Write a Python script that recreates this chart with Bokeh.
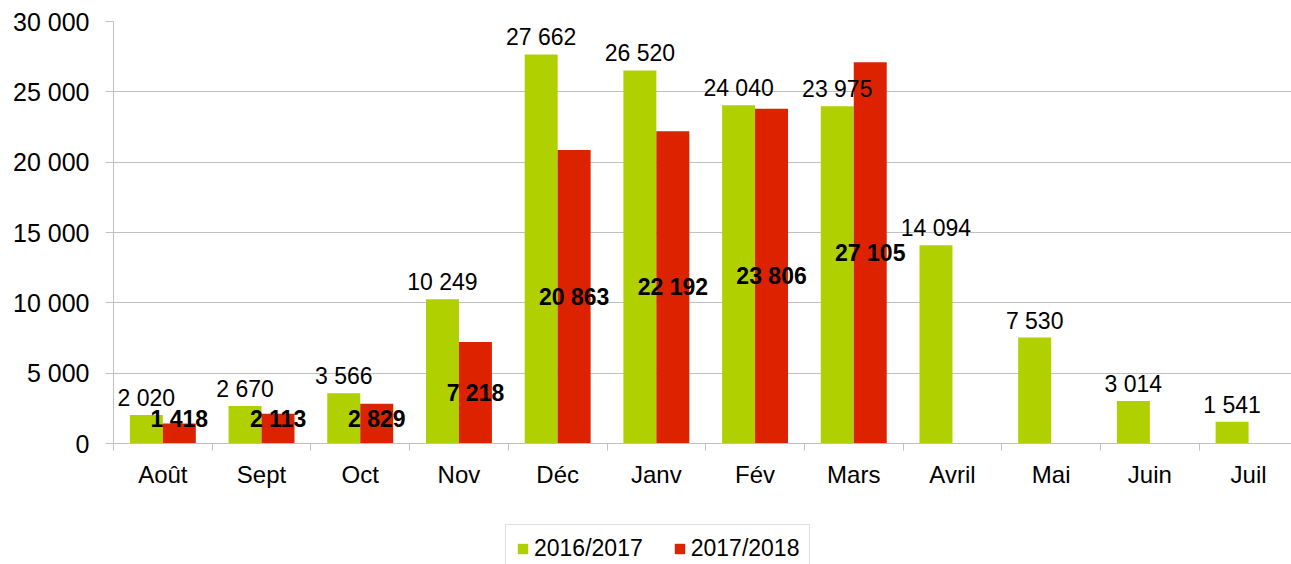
from bokeh.plotting import figure
from bokeh.layouts import column
from bokeh.models import Range1d, FixedTicker, Legend, LegendItem, ColumnDataSource
from bokeh.embed import file_html
from bokeh.resources import INLINE
from bokeh.core.properties import value

months = ["Août", "Sept", "Oct", "Nov", "Déc", "Janv", "Fév", "Mars", "Avril", "Mai", "Juin", "Juil"]
s2016 = [2020, 2670, 3566, 10249, 27662, 26520, 24040, 23975, 14094, 7530, 3014, 1541]
s2017 = [1418, 2113, 2829, 7218, 20863, 22192, 23806, 27105]
series_names = ["2016/2017", "2017/2018"]
y_ticks = [0, 5000, 10000, 15000, 20000, 25000, 30000]

GREEN = "#B0D000"
RED = "#DD2200"
GRID = "#C0C0C0"
FONT = "Liberation Sans"


def fmt(v):
    return f"{v:,}".replace(",", " ")


BW = 0.334
centers = [i + 0.5 for i in range(len(months))]
src_g = ColumnDataSource(dict(
    x=[centers[i] - BW / 2 for i in range(len(s2016))],
    top=s2016,
    label=[fmt(v) for v in s2016],
))
src_r = ColumnDataSource(dict(
    x=[centers[i] + BW / 2 for i in range(len(s2017))],
    top=s2017,
    ly=[max(v / 2, 1740) for v in s2017],
    label=[fmt(v) for v in s2017],
))

p = figure(width=1291, height=520, output_backend="svg", toolbar_location=None,
           x_range=Range1d(0, 11.935), y_range=Range1d(0, 30000),
           min_border_left=113, min_border_right=0, min_border_top=21, min_border_bottom=77)
p.outline_line_color = None
p.background_fill_color = "white"

g = p.vbar(x="x", top="top", width=BW, source=src_g, fill_color=GREEN, line_color=None)
r = p.vbar(x="x", top="top", width=BW, source=src_r, fill_color=RED, line_color=None)

p.text(x="x", y="top", text="label", source=src_g, text_align="center",
       text_baseline="alphabetic", y_offset=-17, text_font=value(FONT),
       text_font_size="23px", text_color="black")
p.text(x="x", y="ly", text="label", source=src_r, text_align="center",
       text_baseline="middle", text_font=value(FONT), text_font_style="bold",
       text_font_size="23px", text_color="black")

# axes
p.xgrid.visible = False
p.ygrid.ticker = FixedTicker(ticks=y_ticks)
p.ygrid.grid_line_color = GRID

yax = p.yaxis[0]
yax.ticker = FixedTicker(ticks=y_ticks)
yax.major_label_overrides = {t: fmt(t) for t in y_ticks}
yax.axis_line_color = GRID
yax.major_tick_line_color = GRID
yax.major_tick_out = 8
yax.major_tick_in = 0
yax.minor_tick_line_color = None
yax.major_label_standoff = 16
yax.major_label_text_font = FONT
yax.major_label_text_font_size = "25px"
yax.major_label_text_color = "black"

xax = p.xaxis[0]
xax.ticker = FixedTicker(ticks=centers, minor_ticks=list(range(len(months) + 1)))
xax.major_label_overrides = {c: m for c, m in zip(centers, months)}
xax.axis_line_color = GRID
xax.major_tick_line_color = None
xax.minor_tick_line_color = GRID
xax.minor_tick_out = 7
xax.minor_tick_in = 0
xax.major_label_standoff = 10
xax.major_label_text_font = FONT
xax.major_label_text_font_size = "24px"
xax.major_label_text_color = "black"

# legend strip (separate figure so the legend is not clipped by the chart frame)
pl = figure(width=1291, height=44, output_backend="svg", toolbar_location=None,
            x_range=Range1d(0, 1), y_range=Range1d(0, 1),
            x_axis_location=None, y_axis_location=None,
            min_border_left=0, min_border_right=0, min_border_top=0, min_border_bottom=0)
pl.outline_line_color = None
pl.grid.visible = False
# zero-size proxies carrying the series colours for the legend keys
lg = pl.vbar(x=[0], top=[0], width=0, fill_color=GREEN, line_color=None)
lr = pl.vbar(x=[0], top=[0], width=0, fill_color=RED, line_color=None)

legend = Legend(items=[LegendItem(label=series_names[0], renderers=[lg]),
                       LegendItem(label=series_names[1], renderers=[lr])],
                orientation="horizontal", location=(392, -9),
                glyph_width=13, glyph_height=13, label_standoff=5, spacing=30,
                padding=10, border_line_color=GRID, label_text_font=FONT,
                label_text_font_size="23px", label_text_color="black",
                background_fill_alpha=1.0)
pl.add_layout(legend, "center")

layout = column(p, pl, spacing=0)
open("out.html", "w").write(file_html(layout, INLINE))
